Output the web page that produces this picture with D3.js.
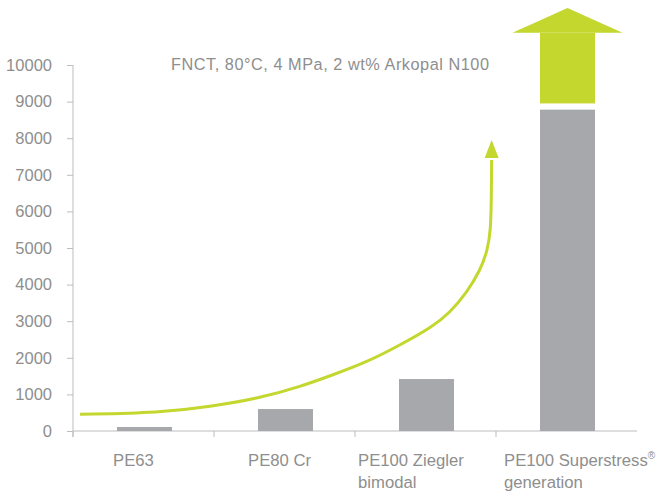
<!DOCTYPE html>
<html>
<head>
<meta charset="utf-8">
<script src="https://cdn.jsdelivr.net/npm/d3@7"></script>
<style>
  body { margin: 0; background: #fff; }
  svg { display: block; }
  text { font-family: "Liberation Sans", Arial, sans-serif; fill: #8e8e8e; }
</style>
</head>
<body>
<svg id="chart" width="665" height="492"></svg>
<script>
// categories and bar values (FNCT hours)
const categories = ['PE63', 'PE80 Cr', 'PE100 Ziegler', 'PE100 Superstress'];
const labelLines = [['PE63'], ['PE80 Cr'], ['PE100 Ziegler', 'bimodal'], ['PE100 Superstress', 'generation']];
const labelSup = ['', '', '', '®'];
const barValues = [110, 600, 1420, 8780];
const yTicks = [0, 1000, 2000, 3000, 4000, 5000, 6000, 7000, 8000, 9000, 10000];

// "off the chart" arrow on the last bar: shaft bottom, shaft top, head tip
const arrowValues = [8950, 10880, 11560];

// trend curve, x in category units (0 = y axis), y in hours
const trendX = [0.05, 0.62, 0.97, 1.33, 1.61, 1.84, 2.09, 2.32, 2.55, 2.67, 2.79, 2.89, 2.94, 2.962, 2.967, 2.969];
const trendY = [456, 500, 664, 902, 1210, 1530, 1893, 2350, 2850, 3224, 3770, 4399, 4945, 5492, 6311, 7404];
const trendTip = 7950;

const title = 'FNCT, 80°C, 4 MPa, 2 wt% Arkopal N100';

const GREY = '#a7a8ab';
const GREEN = '#c3d72e';
const AXIS = '#bdbdbd';

const svg = d3.select('#chart');
const mLeft = 73, mRight = 637, mTop = 65, mBottom = 431;

const x = d3.scaleBand().domain(categories).range([mLeft, mRight]).paddingInner(0).paddingOuter(0);
const xc = d3.scaleLinear().domain([0, categories.length]).range([mLeft, mRight]);
const y = d3.scaleLinear().domain([0, 10000]).range([mBottom, mTop]);

// y axis
const yAxis = svg.append('g')
  .attr('transform', `translate(${mLeft},0)`)
  .call(d3.axisLeft(y).tickValues(yTicks).tickSize(6).tickPadding(15).tickFormat(d3.format('d')));
yAxis.select('.domain').remove();
yAxis.selectAll('line').attr('stroke', AXIS);
yAxis.selectAll('text').attr('font-size', 16.5).attr('fill', '#8e8e8e')
  .style('font-family', '"Liberation Sans", Arial, sans-serif');
svg.append('line').attr('x1', mLeft).attr('x2', mLeft).attr('y1', y(10000)).attr('y2', mBottom + 6)
  .attr('stroke', AXIS);

// x baseline and category ticks
svg.append('line').attr('x1', mLeft).attr('x2', mRight).attr('y1', mBottom).attr('y2', mBottom)
  .attr('stroke', AXIS);
svg.selectAll('.xtick').data(categories).join('line')
  .attr('class', 'xtick')
  .attr('x1', d => x(d)).attr('x2', d => x(d))
  .attr('y1', mBottom).attr('y2', mBottom + 6)
  .attr('stroke', AXIS);

// bars
const barW = x.bandwidth() * 0.39;
svg.selectAll('.bar').data(barValues).join('rect')
  .attr('class', 'bar')
  .attr('x', (d, i) => x(categories[i]) + x.bandwidth() / 2 - barW / 2 + 1)
  .attr('width', barW)
  .attr('y', d => y(d))
  .attr('height', d => mBottom - y(d))
  .attr('fill', GREY);

// big arrow on the last bar
const lastCx = x(categories[3]) + x.bandwidth() / 2 + 1;
svg.append('rect')
  .attr('x', lastCx - barW / 2).attr('width', barW)
  .attr('y', y(arrowValues[1])).attr('height', y(arrowValues[0]) - y(arrowValues[1]))
  .attr('fill', GREEN);
const headHalf = 55;
svg.append('path')
  .attr('d', `M${lastCx - headHalf},${y(arrowValues[1])}L${lastCx},${y(arrowValues[2])}L${lastCx + headHalf},${y(arrowValues[1])}Z`)
  .attr('fill', GREEN);

// trend curve with arrowhead
const pts = trendX.map((v, i) => [xc(v), y(trendY[i])]);
svg.append('path')
  .attr('d', d3.line().curve(d3.curveBasis)(pts))
  .attr('fill', 'none').attr('stroke', GREEN).attr('stroke-width', 3);
const tipX = xc(trendX[trendX.length - 1]);
const tipY = y(trendTip);
svg.append('path')
  .attr('d', `M${tipX},${tipY}L${tipX + 7},${tipY + 18}L${tipX - 7},${tipY + 18}Z`)
  .attr('fill', GREEN);

// title
svg.append('text').attr('x', 171).attr('y', 70).attr('font-size', 16.3)
  .attr('textLength', 318).attr('lengthAdjust', 'spacing').text(title);

// category labels, left-aligned inside their band
const labelOffset = [40, 34, 3, 8];
labelLines.forEach((lines, i) => {
  const lx = x(categories[i]) + labelOffset[i];
  lines.forEach((ln, j) => {
    const t = svg.append('text').attr('x', lx).attr('y', 466 + j * 22).attr('font-size', 16.7).text(ln);
    if (j === 0 && labelSup[i]) {
      t.append('tspan').attr('dy', -7).attr('font-size', 10).text(labelSup[i]);
    }
  });
});
</script>
</body>
</html>
